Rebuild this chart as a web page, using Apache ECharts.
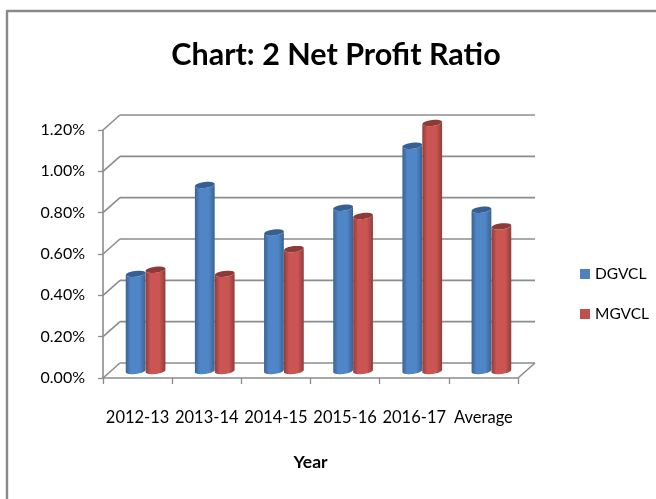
<!DOCTYPE html>
<html><head><meta charset="utf-8">
<style>html,body{margin:0;padding:0;background:#fff}#c{width:656px;height:499px}</style>
<script src="https://cdn.jsdelivr.net/npm/echarts@6/dist/echarts.min.js"></script>
</head><body><div id="c"></div>
<script>
const categories = ['2012-13','2013-14','2014-15','2015-16','2016-17','Average'];
const dgvcl = [0.47,0.90,0.67,0.79,1.09,0.78];
const mgvcl = [0.49,0.47,0.59,0.75,1.20,0.70];
const yTicks = [0,0.2,0.4,0.6,0.8,1.0,1.2];

const chart = echarts.init(document.getElementById('c'));
const BACK=[17,-15], MID=[8,-7];
const FONT='Lato';

function ellipsePts(cx,cy,rx,ry,tilt,from,to){
  const pts=[];const n=24;
  for(let i=0;i<=n;i++){
    const t=from+(to-from)*i/n;
    const x=rx*Math.cos(t),y=ry*Math.sin(t);
    pts.push([cx+x*Math.cos(tilt)-y*Math.sin(tilt),cy+x*Math.sin(tilt)+y*Math.cos(tilt)]);
  }
  return pts;
}
function cylinder(side,base,top){
  return function(params,api){
    const idx=api.value(0),v=api.value(1);
    const band=api.size([1,0])[0];
    const w=band*0.288;
    const c0=api.coord([idx,0]),c1=api.coord([idx,v]);
    const cx=c0[0]+MID[0]+side*w/2;
    const yb=c0[1]+MID[1],yt=c1[1]+MID[1];
    const rx=w/2,ry=3,tilt=-0.12;
    const body=ellipsePts(cx,yb,rx,ry,tilt,0,Math.PI).concat(ellipsePts(cx,yt,rx,ry,tilt,Math.PI,0));
    return {type:'group',children:[
      {type:'polygon',shape:{points:body},style:{fill:new echarts.graphic.LinearGradient(0,0,1,0,[
        {offset:0,color:base[0]},{offset:0.25,color:base[1]},{offset:0.7,color:base[1]},{offset:1,color:base[0]}])}},
      {type:'polygon',shape:{points:ellipsePts(cx,yt,rx,ry,tilt,0,Math.PI*2)},style:{fill:top}}
    ]};
  };
}
const gridLine={stroke:'#8c8c8c',lineWidth:1.6};
function wall(params,api){
  const v=api.value(0);
  const left=api.coord([0,v]);
  const band=api.size([1,0])[0];
  const x0=left[0]-band/2, y=left[1];
  const x1=x0+band*categories.length;
  const ch=[
    {type:'line',shape:{x1:x0,y1:y,x2:x0+BACK[0],y2:y+BACK[1]},style:gridLine},
    {type:'line',shape:{x1:x0+BACK[0],y1:y+BACK[1],x2:x1+BACK[0],y2:y+BACK[1]},style:gridLine}
  ];
  if(v===0) ch.push({type:'line',shape:{x1:x1,y1:y,x2:x1+BACK[0],y2:y+BACK[1]},style:gridLine});
  return {type:'group',children:ch};
}
chart.setOption({
  animation:false,
  backgroundColor:'#fff',
  graphic:[
    {type:'line',shape:{x1:7,y1:11,x2:656,y2:11},style:{stroke:'#8a8a8a',lineWidth:2.4}},
    {type:'line',shape:{x1:7,y1:10,x2:7,y2:499},style:{stroke:'#8a8a8a',lineWidth:2.4}}
  ],
  title:{text:'Chart: 2 Net Profit Ratio',left:331,top:35,textAlign:'center',
    textStyle:{fontFamily:FONT,fontWeight:'bold',fontSize:30.5,color:'#000'}},
  legend:{orient:'vertical',left:575,top:261,itemWidth:10,itemHeight:10,itemGap:24,icon:'rect',
    textStyle:{fontFamily:FONT,fontSize:15.5,color:'#000'},
    data:[{name:'DGVCL',itemStyle:{color:'#4F81BD'}},{name:'MGVCL',itemStyle:{color:'#C0504D'}}]},
  grid:{left:103,right:138,top:130,bottom:121},
  xAxis:{type:'category',data:categories,
    axisLine:{lineStyle:{color:'#8c8c8c',width:1.6}},
    axisTick:{show:true,length:6,alignWithLabel:false,lineStyle:{color:'#8c8c8c',width:1.3}},
    axisLabel:{fontFamily:FONT,fontSize:16.5,color:'#000',margin:31,interval:0},
    name:'Year',nameLocation:'middle',nameGap:75,
    nameTextStyle:{fontFamily:FONT,fontWeight:'bold',fontSize:17.5,color:'#000'}},
  yAxis:{type:'value',min:0,max:1.2,interval:0.2,
    axisLine:{show:true,lineStyle:{color:'#8c8c8c',width:1.6}},
    axisTick:{show:true,length:5,lineStyle:{color:'#8c8c8c',width:1.3}},
    splitLine:{show:false},
    axisLabel:{fontFamily:FONT,fontSize:16,color:'#000',margin:18,padding:[4,0,0,0],formatter:v=>v.toFixed(2)+'%'}},
  series:[
    {type:'custom',silent:true,z:1,renderItem:wall,data:yTicks.map(v=>[v]),encode:{y:0}},
    {name:'DGVCL',type:'custom',z:3,itemStyle:{color:'#4F81BD'},
      renderItem:cylinder(-1,['#3A6391','#4F86C8'],'#376092'),data:dgvcl.map((v,i)=>[i,v]),encode:{x:0,y:1}},
    {name:'MGVCL',type:'custom',z:4,itemStyle:{color:'#C0504D'},
      renderItem:cylinder(1,['#8F3D3B','#CB5552'],'#8E3A38'),data:mgvcl.map((v,i)=>[i,v]),encode:{x:0,y:1}}
  ]
});
</script></body></html>
